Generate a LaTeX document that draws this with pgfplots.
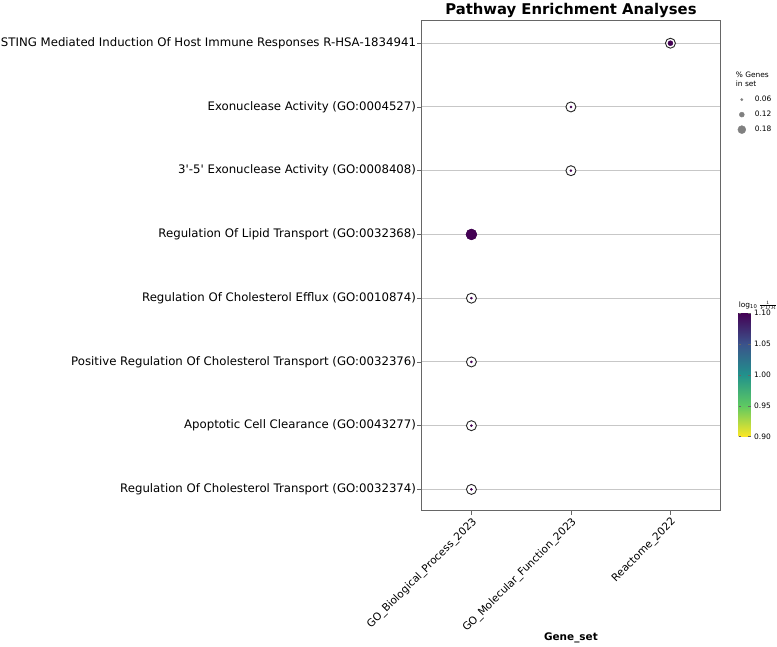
\documentclass[border=0pt]{standalone}
\usepackage{pgfplots}
\pgfplotsset{compat=1.18}
\usepackage{fontspec}
\setmainfont{DejaVu Sans}
\font\qfont="DejaVu Sans" at 11.8bp
\newcommand{\sq}{{\qfont\char"27}}
\pgfplotstableread{
x y pct meta
2 7 0.115 1.10
1 6 0.05 1.10
1 5 0.05 1.10
0 4 0.25 1.10
0 3 0.05 1.10
0 2 0.05 1.10
0 1 0.05 1.10
0 0 0.05 1.10
}\datatable
\begin{document}
\begin{tikzpicture}
\begin{axis}[
  scale only axis, width=299bp, height=491bp,
  xmin=-0.5, xmax=2.5, ymin=-0.33, ymax=7.36,
  xtick={0,1,2},
  xticklabels={GO\_Biological\_Process\_2023, GO\_Molecular\_Function\_2023, Reactome\_2022},
  ytick={0,1,2,3,4,5,6,7},
  yticklabels={
    Regulation Of Cholesterol Transport (GO:0032374),
    Apoptotic Cell Clearance (GO:0043277),
    Positive Regulation Of Cholesterol Transport (GO:0032376),
    Regulation Of Cholesterol Efflux (GO:0010874),
    Regulation Of Lipid Transport (GO:0032368),
    3\sq-5\sq\ Exonuclease Activity (GO:0008408),
    Exonuclease Activity (GO:0004527),
    STING Mediated Induction Of Host Immune Responses R-HSA-1834941},
  tick pos=left,
  tick align=outside, major tick length=4.5bp,
  tick style={black!60, line width=0.8bp},
  axis line style={black!60, line width=1bp},
  ymajorgrids, major grid style={black!22, line width=0.9bp},
  xticklabel style={rotate=45, anchor=north east, font=\fontsize{10.6}{12}\selectfont, inner sep=1bp},
  yticklabel style={font=\fontsize{11.8}{13}\selectfont, inner sep=1bp},
  xlabel={Gene\_set},
  xlabel style={font=\bfseries\fontsize{10.5}{12}\selectfont, yshift=6bp},
  title={Pathway Enrichment Analyses},
  title style={font=\bfseries\fontsize{14.9}{16}\selectfont, yshift=-7bp},
  colormap={rviridis}{rgb255=(253,231,37) rgb255=(94,201,98) rgb255=(33,145,140) rgb255=(59,82,139) rgb255=(68,1,84)},
  point meta min=0.9, point meta max=1.1,
  colorbar,
  colorbar style={
    scale only axis, width=12bp, height=124bp,
    at={(parent axis.north east)}, anchor=north west, xshift=10bp, yshift=-293bp,
    ytick={0.9,0.95,1,1.05,1.1},
    yticklabel style={font=\fontsize{7.5}{9}\selectfont,
      /pgf/number format/fixed, /pgf/number format/fixed zerofill,
      /pgf/number format/precision=2, /pgf/number format/assume math mode=true},
    major tick length=2.5bp, tick style={black!60},
    axis line style={draw=none},
    title={log\textsubscript{10}\,$\frac{1}{FDR}$},
    title style={at={(0,1)}, anchor=south west, font=\fontsize{7.5}{9}\selectfont, inner sep=0pt, yshift=-3bp, xshift=0bp},
  },
  legend style={at={(1,1)}, anchor=north west, xshift=10bp, yshift=-48bp,
    draw=none, fill=none, font=\fontsize{7.5}{9}\selectfont, row sep=4bp},
  legend cell align=left,
  clip=false,
]
\addlegendimage{empty legend}
\addlegendentry{\hspace*{-12bp}\shortstack[l]{\% Genes\\in set}}
\addlegendimage{only marks, mark=*, mark size=1.2bp, color=gray}
\addlegendentry{\hspace*{7bp}0.06}
\addlegendimage{only marks, mark=*, mark size=2.5bp, color=gray}
\addlegendentry{\hspace*{7bp}0.12}
\addlegendimage{only marks, mark=*, mark size=4bp, color=gray}
\addlegendentry{\hspace*{7bp}0.18}
\addplot[only marks, mark=*, mark size=5bp, mark options={fill=white, draw=black!85, line width=0.9bp}, forget plot]
  table[x=x, y=y] {\datatable};
\addplot[scatter, only marks, mark=*, point meta=\thisrow{meta},
  scatter/use mapped color={draw=mapped color, fill=mapped color},
  visualization depends on={\thisrow{pct} \as \pct},
  scatter/@pre marker code/.append style={/tikz/mark size=22*\pct},
  forget plot]
  table[x=x, y=y] {\datatable};
\end{axis}
\end{tikzpicture}
\end{document}
